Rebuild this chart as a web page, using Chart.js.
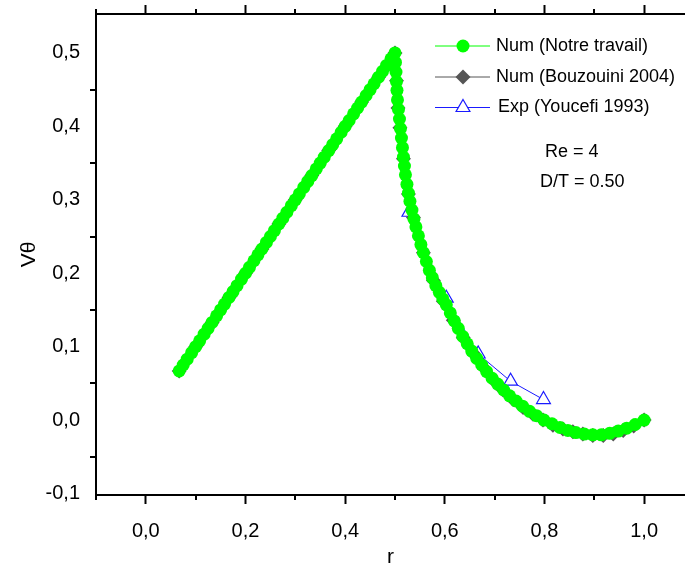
<!DOCTYPE html>
<html>
<head>
<meta charset="utf-8">
<script src="https://cdn.jsdelivr.net/npm/chart.js@4"></script>
<style>
    html, body { margin: 0; padding: 0; background: #fff; overflow: hidden; }
    #chart { display: block; }
</style>
</head>
<body>
<canvas id="chart" width="685" height="571"></canvas>
<script>
// Num (Notre travail)
const numR = [
    0.067, 0.075, 0.083, 0.092, 0.100, 0.108, 0.117, 0.125, 0.133, 0.142, 0.150, 0.158, 0.167, 0.175,
    0.183, 0.192, 0.200, 0.208, 0.217, 0.225, 0.233, 0.242, 0.250, 0.258, 0.267, 0.275, 0.283, 0.292,
    0.300, 0.308, 0.317, 0.325, 0.333, 0.342, 0.350, 0.358, 0.367, 0.375, 0.383, 0.392, 0.400, 0.408,
    0.417, 0.425, 0.433, 0.442, 0.450, 0.458, 0.467, 0.475, 0.483, 0.492, 0.500,
    0.501, 0.502, 0.503, 0.504, 0.505, 0.507, 0.509, 0.511, 0.513, 0.515, 0.517, 0.519, 0.521, 0.524,
    0.527, 0.530, 0.534, 0.538, 0.542, 0.547, 0.552, 0.557, 0.563, 0.569, 0.575, 0.582, 0.589, 0.596,
    0.603, 0.611, 0.619, 0.627, 0.636, 0.645, 0.654, 0.664, 0.674, 0.684, 0.695, 0.706, 0.718, 0.730,
    0.743, 0.756, 0.770, 0.784, 0.799, 0.815, 0.831, 0.847, 0.863, 0.880, 0.897, 0.914, 0.931, 0.948,
    0.965, 0.982, 1.000
];
const numV = [
    0.067, 0.075, 0.083, 0.092, 0.100, 0.108, 0.117, 0.125, 0.133, 0.142, 0.150, 0.158, 0.167, 0.175,
    0.183, 0.192, 0.200, 0.208, 0.217, 0.225, 0.233, 0.242, 0.250, 0.258, 0.267, 0.275, 0.283, 0.292,
    0.300, 0.308, 0.317, 0.325, 0.333, 0.342, 0.350, 0.358, 0.367, 0.375, 0.383, 0.392, 0.400, 0.408,
    0.417, 0.425, 0.433, 0.442, 0.450, 0.458, 0.467, 0.475, 0.483, 0.492, 0.500,
    0.487, 0.474, 0.461, 0.449, 0.436, 0.423, 0.410, 0.397, 0.384, 0.371, 0.358, 0.346, 0.334, 0.321,
    0.309, 0.298, 0.286, 0.274, 0.263, 0.251, 0.239, 0.228, 0.216, 0.204, 0.194, 0.183, 0.174, 0.165,
    0.157, 0.146, 0.135, 0.125, 0.114, 0.104, 0.094, 0.084, 0.075, 0.066, 0.057, 0.049, 0.041, 0.033,
    0.026, 0.019, 0.012, 0.006, 0.000, -0.005, -0.010, -0.014, -0.017, -0.019, -0.020, -0.020, -0.018, -0.015,
    -0.011, -0.006, 0.000
];

// Num (Bouzouini 2004)
const bouzR = [
    0.067, 0.100, 0.133, 0.167, 0.200, 0.233, 0.267, 0.300, 0.333, 0.367, 0.400, 0.433, 0.467, 0.500,
    0.503, 0.506, 0.510, 0.517, 0.527, 0.537, 0.557, 0.577, 0.597, 0.617, 0.637, 0.657, 0.677, 0.697,
    0.717, 0.737, 0.757, 0.777, 0.797, 0.817, 0.837, 0.857, 0.877, 0.897, 0.918, 0.938, 0.958, 0.979, 1.000
];
const bouzV = [
    0.067, 0.100, 0.133, 0.167, 0.200, 0.233, 0.267, 0.300, 0.333, 0.367, 0.400, 0.433, 0.467, 0.500,
    0.462, 0.425, 0.398, 0.356, 0.308, 0.276, 0.228, 0.190, 0.162, 0.136, 0.112, 0.091, 0.072, 0.055,
    0.041, 0.028, 0.017, 0.008, 0.000, -0.007, -0.012, -0.016, -0.019, -0.021, -0.021, -0.019, -0.014, -0.008, 0.000
];

// Exp (Youcefi 1993)
const expR = [0.528, 0.603, 0.667, 0.732, 0.798];
const expV = [0.283, 0.166, 0.090, 0.053, 0.028];

const xMajor = [0.0, 0.2, 0.4, 0.6, 0.8, 1.0];
const xMinor = [-0.1, 0.1, 0.3, 0.5, 0.7, 0.9];
const yMajor = [-0.1, 0.0, 0.1, 0.2, 0.3, 0.4, 0.5];
const yMinor = [-0.05, 0.05, 0.15, 0.25, 0.35, 0.45];

const seriesNames = ['Num (Notre travail)', 'Num (Bouzouini 2004)', 'Exp (Youcefi 1993)'];
const notes = ['Re = 4', 'D/T = 0.50'];

const FONT = '"Liberation Sans", Arial, sans-serif';

function toPoints(xs, ys) {
    return xs.map((x, i) => ({ x: x, y: ys[i] }));
}

function fmt(v) {
    return Number(v).toFixed(1).replace('.', ',');
}

// fixed box sizes, no extra room for tick labels
function fixSize(prop, size) {
    return s => {
        s[prop] = size;
        s.paddingTop = 0;
        s.paddingBottom = 0;
        s.paddingLeft = 0;
        s.paddingRight = 0;
    };
}

const minorTicks = {
    id: 'minorTicks',
    afterDraw(chart) {
        const ctx = chart.ctx;
        const area = chart.chartArea;
        const x = chart.scales.x;
        const y = chart.scales.y;
        ctx.save();
        ctx.strokeStyle = '#000';
        ctx.lineWidth = 2;
        ctx.beginPath();
        xMinor.forEach(v => {
            const px = Math.round(x.getPixelForValue(v));
            ctx.moveTo(px, area.bottom);
            ctx.lineTo(px, area.bottom + 5);
            ctx.moveTo(px, area.top);
            ctx.lineTo(px, area.top - 5);
        });
        yMinor.forEach(v => {
            const py = Math.round(y.getPixelForValue(v));
            ctx.moveTo(area.left, py);
            ctx.lineTo(area.left - 6, py);
        });
        ctx.stroke();
        ctx.restore();
    }
};

const boxLegend = {
    id: 'boxLegend',
    afterDraw(chart) {
        const ctx = chart.ctx;
        const rows = [46, 77, 107.5];
        ctx.save();
        chart.data.datasets.forEach((ds, i) => {
            const y = rows[i];
            ctx.strokeStyle = ds.borderColor;
            ctx.lineWidth = 1;
            ctx.beginPath();
            ctx.moveTo(435, y);
            ctx.lineTo(490, y);
            ctx.stroke();
            ctx.fillStyle = ds.pointBackgroundColor;
            ctx.strokeStyle = ds.pointBorderColor;
            ctx.lineWidth = ds.pointBorderWidth;
            Chart.helpers.drawPoint(ctx, {
                pointStyle: ds.pointStyle,
                radius: ds.pointRadius,
                rotation: 0,
                borderWidth: ds.pointBorderWidth
            }, 463, y);
            ctx.fillStyle = '#000';
            ctx.font = '18px ' + FONT;
            ctx.textBaseline = 'middle';
            ctx.textAlign = 'left';
            ctx.fillText(ds.label, i === 2 ? 498 : 496, y);
        });
        ctx.fillText(notes[0], 545, 152);
        ctx.fillText(notes[1], 540, 182);
        ctx.restore();
    }
};

const ctx = document.getElementById('chart').getContext('2d');

new Chart(ctx, {
    type: 'scatter',
    data: {
        datasets: [
            {
                label: seriesNames[0],
                data: toPoints(numR, numV),
                showLine: true,
                borderColor: '#00ff00',
                borderWidth: 1,
                pointStyle: 'circle',
                pointRadius: 6.5,
                pointBackgroundColor: '#00ff00',
                pointBorderColor: '#00ff00',
                pointBorderWidth: 0
            },
            {
                label: seriesNames[1],
                data: toPoints(bouzR, bouzV),
                showLine: true,
                borderColor: '#555555',
                borderWidth: 1,
                pointStyle: 'rectRot',
                pointRadius: 7.5,
                pointBackgroundColor: '#555555',
                pointBorderColor: '#555555',
                pointBorderWidth: 0
            },
            {
                label: seriesNames[2],
                data: toPoints(expR, expV),
                showLine: true,
                borderColor: '#1a1aff',
                borderWidth: 1,
                pointStyle: 'triangle',
                pointRadius: 8,
                pointBackgroundColor: '#ffffff',
                pointBorderColor: '#1a1aff',
                pointBorderWidth: 1.2
            }
        ]
    },
    options: {
        responsive: false,
        animation: false,
        layout: { padding: 0, autoPadding: false },
        plugins: {
            legend: { display: false },
            tooltip: { enabled: false }
        },
        scales: {
            x: {
                type: 'linear',
                position: 'bottom',
                min: -0.1,
                max: 1.082,
                afterBuildTicks: s => { s.ticks = xMajor.map(v => ({ value: v })); },
                afterFit: fixSize('height', 76),
                ticks: {
                    callback: v => fmt(v),
                    color: '#000',
                    font: { family: FONT, size: 20 },
                    padding: 15,
                    maxRotation: 0
                },
                grid: { drawOnChartArea: false, tickLength: 9, tickWidth: 2, tickColor: '#000' },
                border: { color: '#000', width: 2 },
                title: {
                    display: true,
                    text: 'r',
                    color: '#000',
                    font: { family: FONT, size: 21 },
                    padding: { top: 0, bottom: 1 }
                }
            },
            x2: {
                type: 'linear',
                position: 'top',
                min: -0.1,
                max: 1.082,
                afterBuildTicks: s => { s.ticks = xMajor.map(v => ({ value: v })); },
                afterFit: fixSize('height', 14),
                ticks: { display: false },
                grid: { drawOnChartArea: false, tickLength: 9, tickWidth: 2, tickColor: '#000' },
                border: { color: '#000', width: 2 }
            },
            y: {
                type: 'linear',
                min: -0.102,
                max: 0.553,
                afterBuildTicks: s => { s.ticks = yMajor.map(v => ({ value: v })); },
                afterFit: fixSize('width', 96),
                ticks: {
                    callback: v => fmt(v),
                    color: '#000',
                    font: { family: FONT, size: 20 },
                    padding: 16
                },
                grid: { drawOnChartArea: false, drawTicks: false },
                border: { color: '#000', width: 2 },
                title: {
                    display: true,
                    text: 'Vθ',
                    color: '#000',
                    font: { family: FONT, size: 21 },
                    padding: { top: 17, bottom: 0 }
                }
            }
        }
    },
    plugins: [minorTicks, boxLegend]
});
</script>
</body>
</html>
